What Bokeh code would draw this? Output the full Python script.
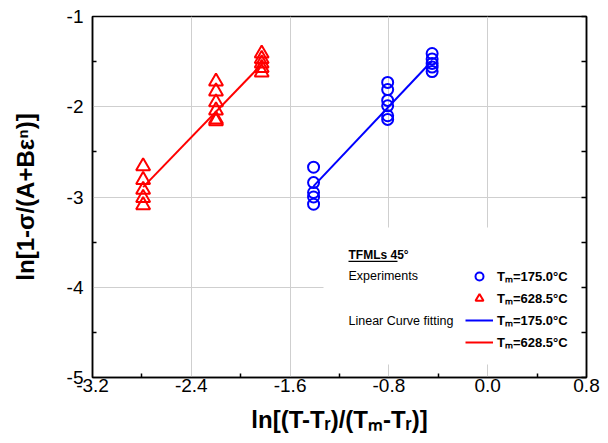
from bokeh.plotting import figure
from bokeh.models import (Range1d, FixedTicker, LinearAxis, Label, Legend, LegendItem,
                          BoxAnnotation, CustomJSTickFormatter)
from bokeh.embed import file_html
from bokeh.resources import INLINE

# ---------------- data ----------------
blue_x = [-1.41, -1.41, -1.41, -1.41, -1.41,
          -0.81, -0.81, -0.81, -0.81, -0.81, -0.81,
          -0.45, -0.45, -0.45, -0.45, -0.45]
blue_y = [-2.67, -2.84, -2.95, -3.00, -3.08,
          -1.73, -1.81, -1.93, -1.99, -2.10, -2.14,
          -1.41, -1.47, -1.52, -1.56, -1.61]
red_x = [-2.79, -2.79, -2.79, -2.79, -2.79,
         -2.20, -2.20, -2.20, -2.20, -2.20, -2.20,
         -1.83, -1.83, -1.83, -1.83, -1.83]
red_y = [-2.66, -2.81, -2.92, -3.01, -3.09,
         -1.72, -1.83, -1.95, -2.04, -2.14, -2.16,
         -1.41, -1.47, -1.52, -1.57, -1.62]
fit_blue_x = [-1.41, -0.45]
fit_blue_y = [-2.88, -1.49]
fit_red_x = [-2.79, -1.83]
fit_red_y = [-2.89, -1.53]

x_ticks = [-3.2, -2.4, -1.6, -0.8, 0.0, 0.8]
x_tick_labels = ["-3.2", "-2.4", "-1.6", "-0.8", "0.0", "0.8"]
x_minor = [-2.8, -2.0, -1.2, -0.4, 0.4]
y_ticks = [-5, -4, -3, -2, -1]
y_tick_labels = ["-5", "-4", "-3", "-2", "-1"]
y_minor = [-4.5, -3.5, -2.5, -1.5]

x_title = "ln[(T-T\u1d63)/(T\u2098-T\u1d63)]"
y_title = "ln[1-\u03c3/(A+B\u03b5\u207f)]"
legend_labels = ["T\u2098=175.0\u00b0C", "T\u2098=628.5\u00b0C",
                 "T\u2098=175.0\u00b0C", "T\u2098=628.5\u00b0C"]

FONT = "Liberation Sans"

# ---------------- figure ----------------
W, H = 600, 440
ML, MR, MT, MB = 92, 14, 16, 63
p = figure(width=W, height=H, x_range=Range1d(-3.2, 0.8), y_range=Range1d(-5, -1),
           output_backend="svg", toolbar_location=None,
           min_border_left=ML, min_border_right=MR, min_border_top=MT, min_border_bottom=MB)
p.background_fill_color = "white"
p.border_fill_color = "white"
p.outline_line_color = "black"
p.outline_line_width = 1.5
p.outline_line_alpha = 1

# frame geometry in picture pixels
FL, FB = ML, H - MB
FR, FT = W - MR, MT
X0, X1, Y0, Y1 = -3.2, 0.8, -5.0, -1.0

def px2x(px):
    return X0 + (px - FL) * (X1 - X0) / (FR - FL)

def py2y(py):
    return Y0 + (FB - py) * (Y1 - Y0) / (FB - FT)

xt = FixedTicker(ticks=x_ticks, minor_ticks=x_minor)
yt = FixedTicker(ticks=y_ticks, minor_ticks=y_minor)

xa = p.xaxis[0]
xa.ticker = xt
xa.major_label_overrides = {t: l for t, l in zip(x_ticks, x_tick_labels)}
ya = p.yaxis[0]
ya.ticker = yt
ya.major_label_overrides = {t: l for t, l in zip(y_ticks, y_tick_labels)}
for ax in (xa, ya):
    ax.axis_line_color = "black"
    ax.axis_line_width = 1.5
    ax.major_tick_in = 0
    ax.major_tick_out = 0
    ax.minor_tick_in = 4
    ax.minor_tick_out = 0
    ax.minor_tick_line_color = "black"
    ax.minor_tick_line_width = 1.5
    ax.major_label_text_font = FONT
    ax.major_label_text_font_size = "19px"
    ax.major_label_text_color = "black"
    ax.axis_label_text_font = FONT
    ax.axis_label_text_font_size = "24px"
    ax.axis_label_text_font_style = "bold"
    ax.axis_label_text_color = "black"
xa.major_label_standoff = 1
ya.major_label_standoff = 9
xa.axis_label = x_title
ya.axis_label = y_title
xa.axis_label_standoff = 11
ya.axis_label_standoff = 25

ra = LinearAxis(ticker=yt, formatter=CustomJSTickFormatter(code="return ''"))
ra.axis_line_color = "black"
ra.axis_line_width = 1.5
ra.major_tick_in = 5
ra.major_tick_out = 0
ra.minor_tick_in = 5
ra.minor_tick_out = 0
ra.major_tick_line_width = 1.5
ra.minor_tick_line_width = 1.5
ra.major_label_standoff = 0
p.add_layout(ra, "right")

p.xgrid[0].ticker = xt
p.ygrid[0].ticker = yt
for g in (p.xgrid[0], p.ygrid[0]):
    g.grid_line_color = "#cfcfcf"
    g.grid_line_width = 1

# white legend area hiding the grid
p.add_layout(BoxAnnotation(left=px2x(323), right=px2x(583), top=py2y(227), bottom=py2y(364),
                           fill_color="white", fill_alpha=1, line_color=None, level="glyph"))

# ---------------- glyphs ----------------
lb = p.line(fit_blue_x, fit_blue_y, line_color="#0000ff", line_width=2)
lr = p.line(fit_red_x, fit_red_y, line_color="#ff0000", line_width=2)
sb = p.scatter(blue_x, blue_y, marker="circle", size=11, fill_color=None,
               line_color="#0000ff", line_width=2)
sr = p.scatter(red_x, red_y, marker="triangle", size=14, fill_color=None,
               line_color="#ff0000", line_width=2)

legend = Legend(items=[LegendItem(label=legend_labels[0], renderers=[sb]),
                       LegendItem(label=legend_labels[1], renderers=[sr]),
                       LegendItem(label=legend_labels[2], renderers=[lb]),
                       LegendItem(label=legend_labels[3], renderers=[lr])],
                location=(465 - FL, FB - 351.5))
legend.padding = 0
legend.margin = 0
legend.spacing = 2
legend.glyph_width = 28
legend.glyph_height = 20
legend.label_height = 20
legend.label_standoff = 4
legend.label_text_font = FONT
legend.label_text_font_size = "13px"
legend.label_text_font_style = "bold"
legend.label_text_color = "black"
legend.background_fill_alpha = 0
legend.border_line_color = None
p.add_layout(legend)

# ---------------- legend-side texts ----------------
def put(text, px, baseline, size, bold=True):
    cy = baseline - 0.35 * size
    p.add_layout(Label(x=X0, y=Y0, x_offset=px - FL, y_offset=FB - cy, text=text,
                       text_font=FONT, text_font_size=f"{size}px",
                       text_font_style="bold" if bold else "normal",
                       text_baseline="middle", text_align="left",
                       text_color="black"))

put("TFMLs 45\u00b0", 348, 259, 12)
p.add_layout(BoxAnnotation(left=px2x(348), right=px2x(397), top=py2y(260.3), bottom=py2y(261.5),
                           fill_color="black", fill_alpha=1, line_color=None))
put("Experiments", 348, 279.5, 12.5, bold=False)
put("Linear Curve fitting", 348, 325, 12.5, bold=False)

open("out.html", "w").write(file_html(p, INLINE))
